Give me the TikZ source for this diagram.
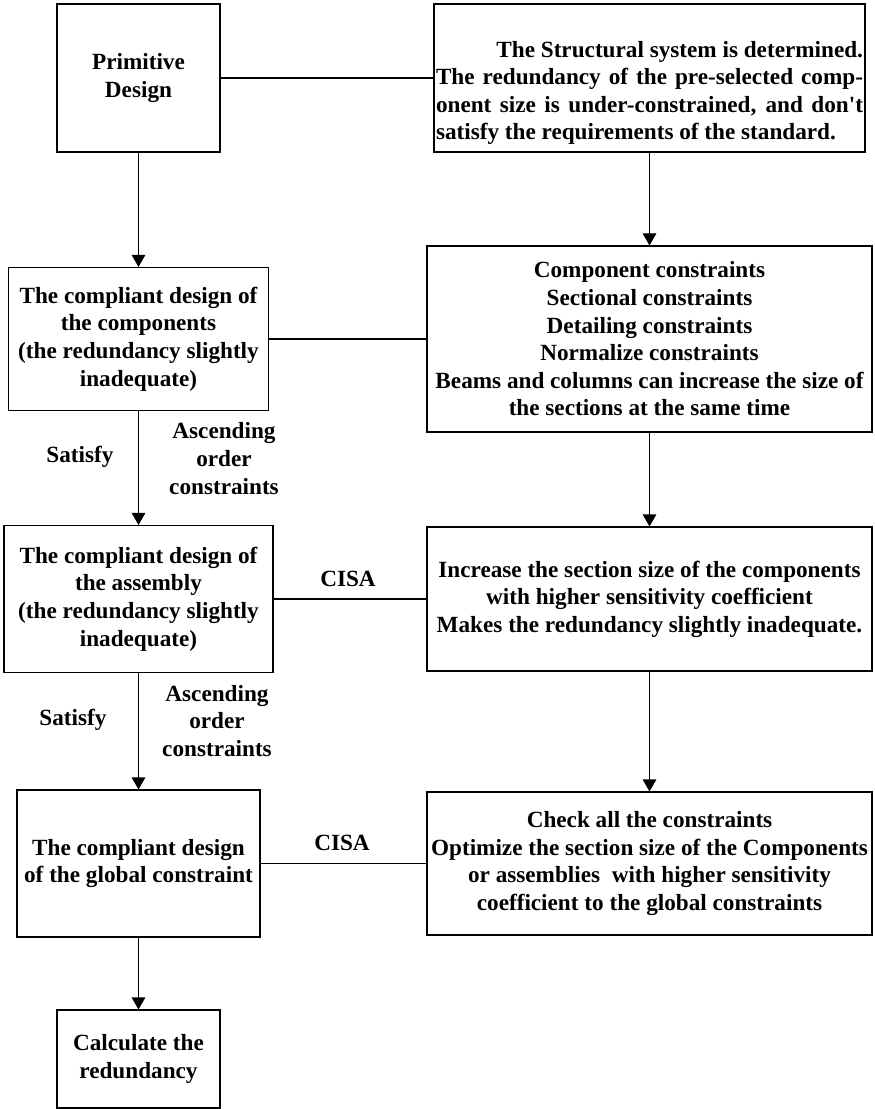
\documentclass[tikz,border=0pt]{standalone}
\usepackage{fontspec}
\setmainfont{Liberation Serif}[Ligatures=TeXOff]
\usetikzlibrary{arrows.meta,positioning}
\newcommand{\flowfont}{\fontsize{13.2pt}{15.7pt}\selectfont\bfseries}
\tikzset{
  fbox/.style={draw, line width=0.6pt, font=\flowfont, align=center, inner sep=1pt},
  flabel/.style={font=\flowfont, align=center, inner sep=1pt},
  flow/.style={-{Triangle[length=0.24cm,width=0.27cm]}, line width=0.6pt},
  link/.style={line width=0.6pt},
}
\begin{document}
\begin{tikzpicture}
\useasboundingbox (0,0) rectangle (17.48,-22.18);

% Left column
\node[fbox, minimum width=3.26cm, minimum height=2.96cm] (primitive) at (2.77,-1.56) {Primitive\\Design};
\node[fbox, minimum width=5.20cm, minimum height=2.86cm] (compdesign) at (2.77,-6.78)
      {The compliant design of\\the components\\(the redundancy slightly\\inadequate)};
\node[fbox, minimum width=5.38cm, minimum height=2.94cm] (assydesign) at (2.77,-11.98)
      {The compliant design of\\the assembly\\(the redundancy slightly\\inadequate)};
\node[fbox, minimum width=4.86cm, minimum height=2.94cm] (globdesign) at (2.77,-17.27)
      {The compliant design\\of the global constraint};
\node[fbox, minimum width=3.26cm, minimum height=1.96cm] (redundancy) at (2.77,-21.18)
      {Calculate the\\redundancy};

% Right column
\node[fbox, minimum width=8.62cm, minimum height=2.96cm, text width=8.54cm,
      inner xsep=0.04cm, align=justify] (structsys) at (12.99,-1.56)
      {\rule{0pt}{0.92cm}\hspace*{\fill}The Structural system is determined.\linebreak
       The redundancy of the pre-selected comp-\linebreak
       onent size is under-constrained, and don't\linebreak
       satisfy the requirements of the standard.};
\node[fbox, minimum width=8.90cm, minimum height=3.72cm] (constraints) at (12.99,-6.78)
      {Component constraints\\Sectional constraints\\Detailing constraints\\Normalize constraints\\
       Beams and columns can increase the size of\\the sections at the same time};
\node[fbox, minimum width=8.90cm, minimum height=2.88cm] (increase) at (12.99,-11.98)
      {Increase the section size of the components\\with higher sensitivity coefficient\\
       Makes the redundancy slightly inadequate.};
\node[fbox, minimum width=8.90cm, minimum height=2.86cm] (optimize) at (12.99,-17.27)
      {Check all the constraints\\Optimize the section size of the Components\\
       or assemblies\ \ with higher sensitivity\\coefficient to the global constraints};

% Labels
\node[flabel] (sat1) at (1.60,-9.14) {Satisfy};
\node[flabel] (asc1) at (4.48,-9.17) {Ascending\\order\\constraints};
\node[flabel] (sat2) at (1.46,-14.40) {Satisfy};
\node[flabel] (asc2) at (4.34,-14.42) {Ascending\\order\\constraints};
\node[flabel] (cisa1) at (6.96,-11.58) {CISA};
\node[flabel] (cisa2) at (6.84,-16.86) {CISA};

% Connections
\draw[link] (primitive) -- (structsys);
\draw[flow] (primitive) -- (compdesign);
\draw[flow] (structsys) -- (constraints);
\draw[link] (compdesign) -- (constraints);
\draw[flow] (compdesign) -- (assydesign);
\draw[flow] (constraints) -- (increase);
\draw[link] (assydesign) -- (increase);
\draw[flow] (assydesign) -- (globdesign);
\draw[flow] (increase) -- (optimize);
\draw[link] (globdesign) -- (optimize);
\draw[flow] (globdesign) -- (redundancy);

\end{tikzpicture}
\end{document}
